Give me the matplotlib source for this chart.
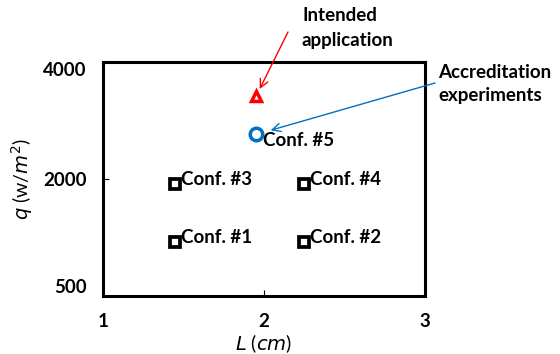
import matplotlib.pyplot as plt

plt.rcParams['font.family'] = ['Lato', 'DejaVu Sans']

# Configurations (test conditions)
conf_names = ['Conf. #1', 'Conf. #2', 'Conf. #3', 'Conf. #4']
conf_L = [1.45, 2.25, 1.45, 2.25]
conf_q = [930, 930, 1920, 1920]

# Accreditation experiment (Conf. #5) and intended application
acc_L, acc_q = [1.95], [2760]
app_L, app_q = [1.95], [3410]

yticks = [0, 2000, 4000]
ytick_labels = ['500', '2000', '4000']
xticks = [1, 2, 3]

fig = plt.figure(figsize=(5.6, 3.54), dpi=100)
ax = fig.add_axes([0.184, 0.164, 0.575, 0.661])

ax.plot(conf_L, conf_q, 's', ms=7.5, mfc='white', mec='black', mew=2.7, clip_on=False)
for name, x, y in zip(conf_names, conf_L, conf_q):
    ax.annotate(name, (x, y), xytext=(4, 3), textcoords='offset points',
                fontsize=13.5, fontweight='bold', va='center', ha='left')

ax.plot(acc_L, acc_q, 'o', ms=9, mfc='white', mec='#0070C0', mew=2.5)
ax.annotate('Conf. #5', (acc_L[0], acc_q[0]), xytext=(5, -4), textcoords='offset points',
            fontsize=13.5, fontweight='bold', va='center', ha='left')

ax.plot(app_L, app_q, '^', ms=7, mfc='white', mec='red', mew=2.5)

# callouts
fig.text(302 / 560, 1 - 28 / 354, 'Intended\napplication', fontsize=13.5, fontweight='bold',
         ha='left', va='center', linespacing=1.6)
ax.annotate('', xy=(app_L[0], app_q[0]), xytext=(288, 354 - 32), textcoords='figure pixels',
            annotation_clip=False,
            arrowprops=dict(arrowstyle='->', color='red', lw=1, shrinkA=0, shrinkB=6,
                            mutation_scale=15))
fig.text(438 / 560, 1 - 84 / 354, 'Accreditation\nexperiments', fontsize=13.5, fontweight='bold',
         ha='left', va='center', linespacing=1.5)
ax.annotate('', xy=(acc_L[0], acc_q[0]), xytext=(435, 354 - 83), textcoords='figure pixels',
            annotation_clip=False,
            arrowprops=dict(arrowstyle='->', color='#0070C0', lw=1, shrinkA=0, shrinkB=11,
                            mutation_scale=15))

ax.set_xlim(1, 3)
ax.set_ylim(0, 4000)
ax.set_xticks(xticks)
ax.set_xticklabels([str(t) for t in xticks], fontsize=13.5, fontweight='bold')
ax.set_yticks(yticks)
ax.set_yticklabels(ytick_labels, fontsize=13.5, fontweight='bold')
ylabs = ax.get_yticklabels()
ylabs[0].set_va('bottom')
ylabs[-1].set_va('top')
ax.tick_params(axis='y', direction='in', length=4, width=0.8, pad=12)
ax.tick_params(axis='x', direction='in', length=4, width=0.8, pad=12)
ax.set_xlabel(r'$L$ ($cm$)', fontsize=14, labelpad=2)
ax.set_ylabel(r'$q$ (w/$m^2$)', fontsize=14, labelpad=6)
for s in ax.spines.values():
    s.set_linewidth(2.2)

fig.savefig('out.png', dpi=100)
